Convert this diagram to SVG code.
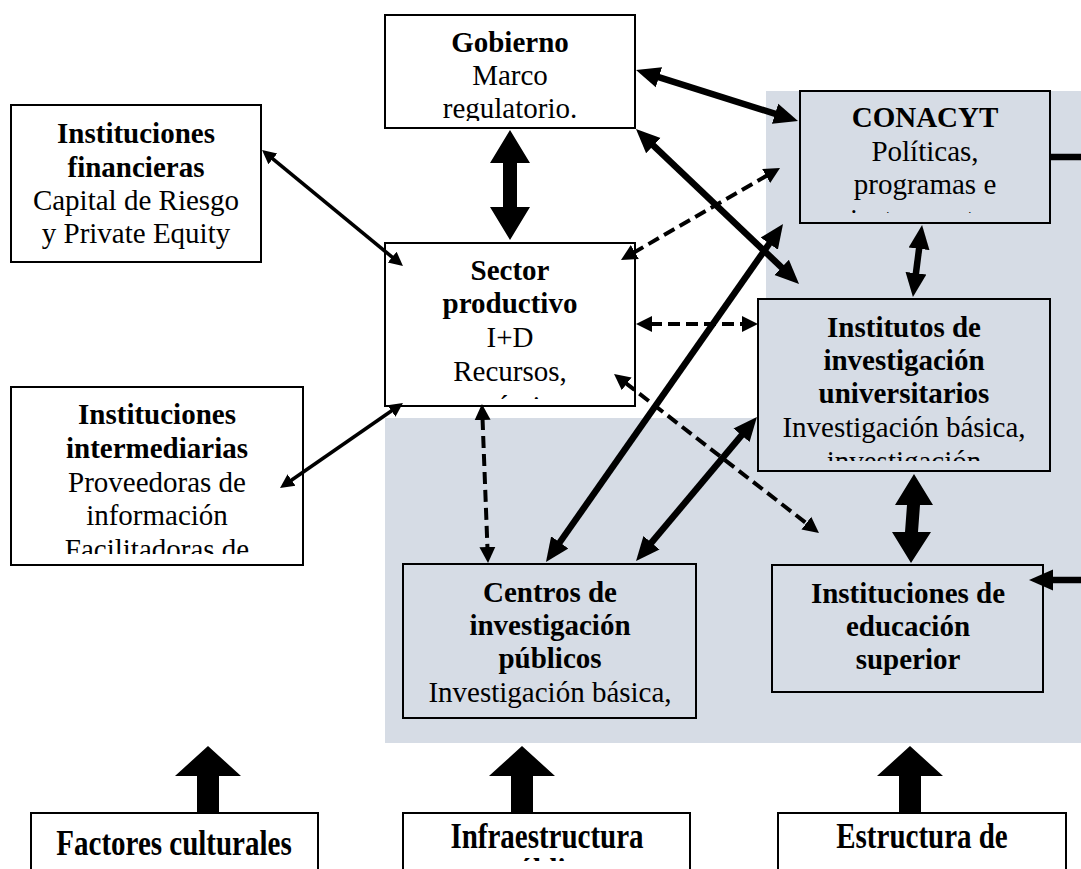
<svg xmlns="http://www.w3.org/2000/svg" width="1081" height="869" viewBox="0 0 1081 869">
  <style>
    .box { fill: #ffffff; stroke: #000; stroke-width: 2; }
    .sbox { fill: #d6dce5; stroke: #000; stroke-width: 2; }
    .t { font-family: "Liberation Serif", "Times New Roman", serif; font-size: 29px; fill: #000; text-anchor: middle; }
    .b { font-weight: bold; }
    .thick { stroke: #000; stroke-width: 6.5; fill: none; marker-start: url(#hd); marker-end: url(#hd); }
    .thin { stroke: #000; stroke-width: 3.6; fill: none; marker-start: url(#hs); marker-end: url(#hs); }
    .dash { stroke: #000; stroke-width: 4; fill: none; stroke-dasharray: 12 6; marker-start: url(#hm); marker-end: url(#hm); }
    .blk { fill: #000; }
  </style>
  <defs>
    <marker id="hd" markerUnits="userSpaceOnUse" viewBox="0 0 26 24" markerWidth="26" markerHeight="24" refX="2" refY="12" orient="auto-start-reverse">
      <path d="M0,1.5 L24,12 L0,22.5 Z" fill="#000"/>
    </marker>
    <marker id="hs" markerUnits="userSpaceOnUse" viewBox="0 0 16 16" markerWidth="16" markerHeight="16" refX="2" refY="8" orient="auto-start-reverse">
      <path d="M0,1 L14,8 L0,15 Z" fill="#000"/>
    </marker>
    <marker id="hm" markerUnits="userSpaceOnUse" viewBox="0 0 17 18" markerWidth="17" markerHeight="18" refX="2" refY="9" orient="auto-start-reverse">
      <path d="M0,1 L16,9 L0,17 Z" fill="#000"/>
    </marker>
    <clipPath id="c-gob"><rect x="386" y="16" width="248" height="105"/></clipPath>
    <clipPath id="c-con"><rect x="801" y="92" width="248" height="121"/></clipPath>
    <clipPath id="c-sec"><rect x="386" y="244" width="248" height="155"/></clipPath>
    <clipPath id="c-int"><rect x="12" y="388" width="290" height="166"/></clipPath>
    <clipPath id="c-iiu"><rect x="759" y="300" width="290" height="161"/></clipPath>
    <clipPath id="c-cen"><rect x="404" y="565" width="291" height="145"/></clipPath>
    <clipPath id="c-inf"><rect x="404" y="814" width="285" height="47"/></clipPath>
    <clipPath id="c-est"><rect x="779" y="814" width="286" height="47"/></clipPath>
  </defs>

  <!-- shaded area grouping the research institutions -->
  <path d="M766,91 H1081 V743 H385 V418 H766 Z" fill="#d6dce5"/>

  <g id="gobierno">
    <rect class="box" x="385" y="15" width="250" height="113"/>
    <g clip-path="url(#c-gob)">
      <text class="t b" x="510" y="52">Gobierno</text>
      <text class="t" x="510" y="85">Marco</text>
      <text class="t" x="510" y="118">regulatorio.</text>
    </g>
  </g>

  <g id="conacyt">
    <rect class="sbox" x="800" y="91" width="250" height="132"/>
    <g clip-path="url(#c-con)">
      <text class="t b" x="925" y="127">CONACYT</text>
      <text class="t" x="925" y="161">Políticas,</text>
      <text class="t" x="925" y="194">programas e</text>
      <text class="t" x="925" y="229">instrumentos</text>
    </g>
  </g>

  <g id="inst-financieras">
    <rect class="box" x="11" y="105" width="250" height="157"/>
    <text class="t b" x="136" y="143">Instituciones</text>
    <text class="t b" x="136" y="177">financieras</text>
    <text class="t" x="136" y="210">Capital de Riesgo</text>
    <text class="t" x="136" y="243">y Private Equity</text>
  </g>

  <g id="sector-productivo">
    <rect class="box" x="385" y="243" width="250" height="163"/>
    <g clip-path="url(#c-sec)">
      <text class="t b" x="510" y="280">Sector</text>
      <text class="t b" x="510" y="313">productivo</text>
      <text class="t" x="510" y="347">I+D</text>
      <text class="t" x="510" y="381">Recursos,</text>
      <text class="t" x="510" y="416">económicos</text>
    </g>
  </g>

  <g id="inst-intermediarias">
    <rect class="box" x="11" y="387" width="292" height="178"/>
    <g clip-path="url(#c-int)">
      <text class="t b" x="157" y="424">Instituciones</text>
      <text class="t b" x="157" y="458">intermediarias</text>
      <text class="t" x="157" y="492">Proveedoras de</text>
      <text class="t" x="157" y="525">información</text>
      <text class="t" x="157" y="559">Facilitadoras de</text>
    </g>
  </g>

  <g id="institutos-universitarios">
    <rect class="sbox" x="758" y="299" width="292" height="172"/>
    <g clip-path="url(#c-iiu)">
      <text class="t b" x="904" y="337">Institutos de</text>
      <text class="t b" x="904" y="370">investigación</text>
      <text class="t b" x="904" y="403">universitarios</text>
      <text class="t" x="904" y="437">Investigación básica,</text>
      <text class="t" x="904" y="471">investigación</text>
    </g>
  </g>

  <g id="centros-publicos">
    <rect class="sbox" x="403" y="564" width="293" height="154"/>
    <g clip-path="url(#c-cen)">
      <text class="t b" x="550" y="602">Centros de</text>
      <text class="t b" x="550" y="635">investigación</text>
      <text class="t b" x="550" y="668">públicos</text>
      <text class="t" x="550" y="702">Investigación básica,</text>
    </g>
  </g>

  <g id="educacion-superior">
    <rect class="sbox" x="772" y="565" width="271" height="127"/>
    <text class="t b" x="908" y="603">Instituciones de</text>
    <text class="t b" x="908" y="636">educación</text>
    <text class="t b" x="908" y="669">superior</text>
  </g>

  <g id="factores-culturales">
    <path d="M31,869 V813 H318 V869" fill="#fff" stroke="#000" stroke-width="2"/>
    <text class="t b" transform="translate(174,855) scale(1,1.2)">Factores culturales</text>
  </g>

  <g id="infraestructura">
    <path d="M403,869 V813 H690 V869" fill="#fff" stroke="#000" stroke-width="2"/>
    <g clip-path="url(#c-inf)">
      <text class="t b" transform="translate(547,848) scale(1,1.2)">Infraestructura</text>
      <text class="t b" transform="translate(547,883) scale(1,1.2)">pública</text>
    </g>
  </g>

  <g id="estructura">
    <path d="M778,869 V813 H1066 V869" fill="#fff" stroke="#000" stroke-width="2"/>
    <g clip-path="url(#c-est)">
      <text class="t b" transform="translate(922,848) scale(1,1.2)">Estructura de</text>
    </g>
  </g>

  <g id="connectors">
    <!-- solid heavy links -->
    <line class="thick" x1="657" y1="76.6" x2="777" y2="114.4"/>
    <line class="thick" x1="651.9" y1="144.2" x2="783.1" y2="268.8"/>
    <line class="thick" x1="558.6" y1="544" x2="770.4" y2="242"/>
    <line class="thick" x1="742.8" y1="433.8" x2="650.2" y2="544.2"/>
    <line class="thick" x1="919.3" y1="246.8" x2="915.7" y2="275.2"/>
    <line x1="1050" y1="157" x2="1081" y2="157" stroke="#000" stroke-width="6.5"/>
    <line x1="1081" y1="580" x2="1051" y2="580" stroke="#000" stroke-width="6.5" marker-end="url(#hd)"/>
    <!-- light links -->
    <line class="thin" x1="271.3" y1="157.6" x2="393.7" y2="258.4"/>
    <line class="thin" x1="393.1" y1="409.8" x2="289.9" y2="481.2"/>
    <!-- dashed links -->
    <line class="dash" x1="767.9" y1="175" x2="633.1" y2="253"/>
    <line class="dash" x1="650" y1="324" x2="744" y2="324"/>
    <line class="dash" x1="482.5" y1="418" x2="487.5" y2="549"/>
    <line class="dash" x1="625.1" y1="382.6" x2="807.9" y2="524.4"/>
    <!-- block double arrows -->
    <polygon class="blk" points="510,130 530,163 517,163 517,207 530,207 510,240 490,207 503,207 503,163 490,163"/>
    <polygon class="blk" points="914,474 933,505 920,505 918,532 931,532 911,563 892,532 905,532 907,505 895,505"/>
    <!-- upward block arrows from the bottom factors -->
    <polygon class="blk" points="208,746 241,776 219,776 219,813 197,813 197,776 175,776"/>
    <polygon class="blk" points="522,746 555,776 533,776 533,813 511,813 511,776 489,776"/>
    <polygon class="blk" points="910,746 943,776 921,776 921,813 899,813 899,776 877,776"/>
  </g>
</svg>
